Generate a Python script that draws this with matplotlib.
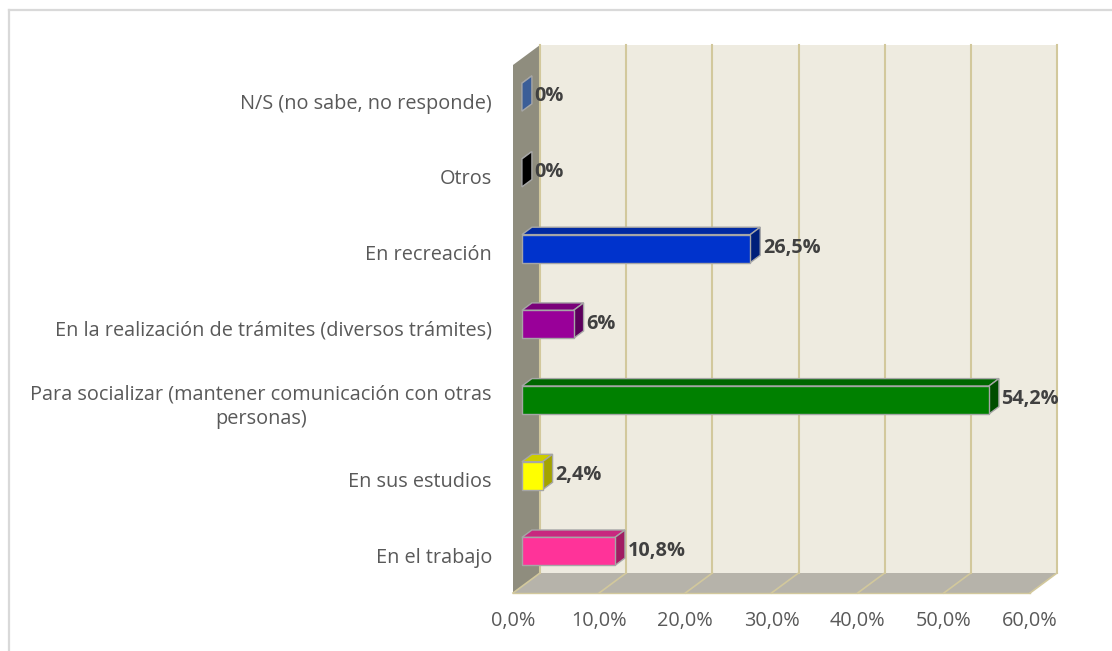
import matplotlib
matplotlib.use("Agg")
import matplotlib.pyplot as plt
from matplotlib.patches import Polygon
from matplotlib.lines import Line2D

# ---------------- data ----------------
categories = [
    "En el trabajo",
    "En sus estudios",
    "Para socializar (mantener comunicación con otras\npersonas)",
    "En la realización de trámites (diversos trámites)",
    "En recreación",
    "Otros",
    "N/S (no sabe, no responde)",
]
values = [10.8, 2.4, 54.2, 6.0, 26.5, 0.0, 0.0]
value_labels = ["10,8%", "2,4%", "54,2%", "6%", "26,5%", "0%", "0%"]
x_ticks = [0, 10, 20, 30, 40, 50, 60]
x_tick_labels = ["0,0%", "10,0%", "20,0%", "30,0%", "40,0%", "50,0%", "60,0%"]

# ---------------- style ----------------
front_colors = ["#FF3399", "#FFFF00", "#008000", "#990099", "#0033CC", "#000000", "#4A72B8"]
top_colors = ["#C8287F", "#CCCC00", "#006600", "#7A007A", "#0029A3", "#000000", "#3F66A8"]
side_colors = ["#A01C62", "#A3A300", "#004D00", "#5C005C", "#001F7A", "#000000", "#3B5E98"]
FONT = "Open Sans"

W, H, DPI = 1112, 651, 100
fig = plt.figure(figsize=(W / DPI, H / DPI), dpi=DPI)
fig.patch.set_facecolor("white")
ax = fig.add_axes([0, 0, 1, 1])
ax.set_axis_off()

# pixel mapping: x=0% at px 513, 8.617 px per %, category i at py = 558 - 75.7*i
PX0, PXS = 513.0, 8.617
PY0, PYS = 558.0, 75.7
ax.set_xlim((0 - PX0) / PXS, (W - PX0) / PXS)
ax.set_ylim((PY0 - H) / PYS, (PY0 - 0) / PYS)

DX = 27.0 / PXS      # depth offset in x units
DY = 20.0 / PYS      # depth offset in y units
xmax = x_ticks[-1]
ybot = (PY0 - 593.0) / PYS
ytop = (PY0 - 65.0) / PYS


def P(v, y, d):
    return (v + d * DX, y + d * DY)


wall_back = "#EEEBE0"
wall_left = "#8F8D7E"
floor_c = "#B6B3AA"
grid_c = "#D2C89C"

# walls
ax.add_patch(Polygon([P(0, ybot, 1), P(xmax, ybot, 1), P(xmax, ytop, 1), P(0, ytop, 1)],
                     closed=True, facecolor=wall_back, edgecolor="none", zorder=1))
ax.add_patch(Polygon([P(0, ybot, 0), P(0, ybot, 1), P(0, ytop, 1), P(0, ytop, 0)],
                     closed=True, facecolor=wall_left, edgecolor="none", zorder=1))
ax.add_patch(Polygon([P(0, ybot, 0), P(xmax, ybot, 0), P(xmax, ybot, 1), P(0, ybot, 1)],
                     closed=True, facecolor=floor_c, edgecolor="none", zorder=1))

# gridlines
for v in x_ticks:
    a, b = P(v, ybot, 1), P(v, ytop, 1)
    ax.plot([a[0], b[0]], [a[1], b[1]], color=grid_c, lw=1.5, zorder=2)
    a, b = P(v, ybot, 0), P(v, ybot, 1)
    ax.plot([a[0], b[0]], [a[1], b[1]], color=grid_c, lw=1.2, zorder=2)
a, b = P(0, ybot, 0), P(xmax, ybot, 0)
ax.plot([a[0], b[0]], [a[1], b[1]], color=grid_c, lw=1.0, zorder=2)

# bars
h = 14.0 / PYS
d0, d1 = 0.33, 0.70
edge = "#A6A6A6"
for i, v in enumerate(values):
    yl, yh = i - h, i + h
    top = [P(0, yh, d0), P(v, yh, d0), P(v, yh, d1), P(0, yh, d1)]
    side = [P(v, yl, d0), P(v, yl, d1), P(v, yh, d1), P(v, yh, d0)]
    front = [P(0, yl, d0), P(v, yl, d0), P(v, yh, d0), P(0, yh, d0)]
    ax.add_patch(Polygon(top, closed=True, facecolor=top_colors[i], edgecolor=edge, lw=1.0, zorder=3))
    ax.add_patch(Polygon(side, closed=True, facecolor=side_colors[i], edgecolor=edge, lw=1.0, zorder=3))
    if v > 0:
        ax.add_patch(Polygon(front, closed=True, facecolor=front_colors[i], edgecolor=edge, lw=1.0, zorder=4))
    lx, ly = P(v, i, d1)
    ax.text(lx + 0.3, i + d0 * DY + 0.01, value_labels[i], ha="left", va="center",
            fontsize=14.3, fontweight="bold", color="#404040", family=FONT, zorder=5)

# category labels
for i, c in enumerate(categories):
    ax.text((492 - PX0) / PXS, i, c, ha="right", va="center", multialignment="center",
            fontsize=14.3, color="#595959", family=FONT, linespacing=1.3)

# x tick labels
for v, t in zip(x_ticks, x_tick_labels):
    ax.text(v, (PY0 - 621) / PYS, t, ha="center", va="center", fontsize=14.3,
            color="#595959", family=FONT)

# outer frame (top and left)
fig.add_artist(Line2D([9 / W, 1], [1 - 10 / H, 1 - 10 / H], color="#D9D9D9", lw=1.6,
                      transform=fig.transFigure))
fig.add_artist(Line2D([9 / W, 9 / W], [0, 1 - 10 / H], color="#D9D9D9", lw=1.6,
                      transform=fig.transFigure))

fig.savefig("out.png", dpi=DPI)
